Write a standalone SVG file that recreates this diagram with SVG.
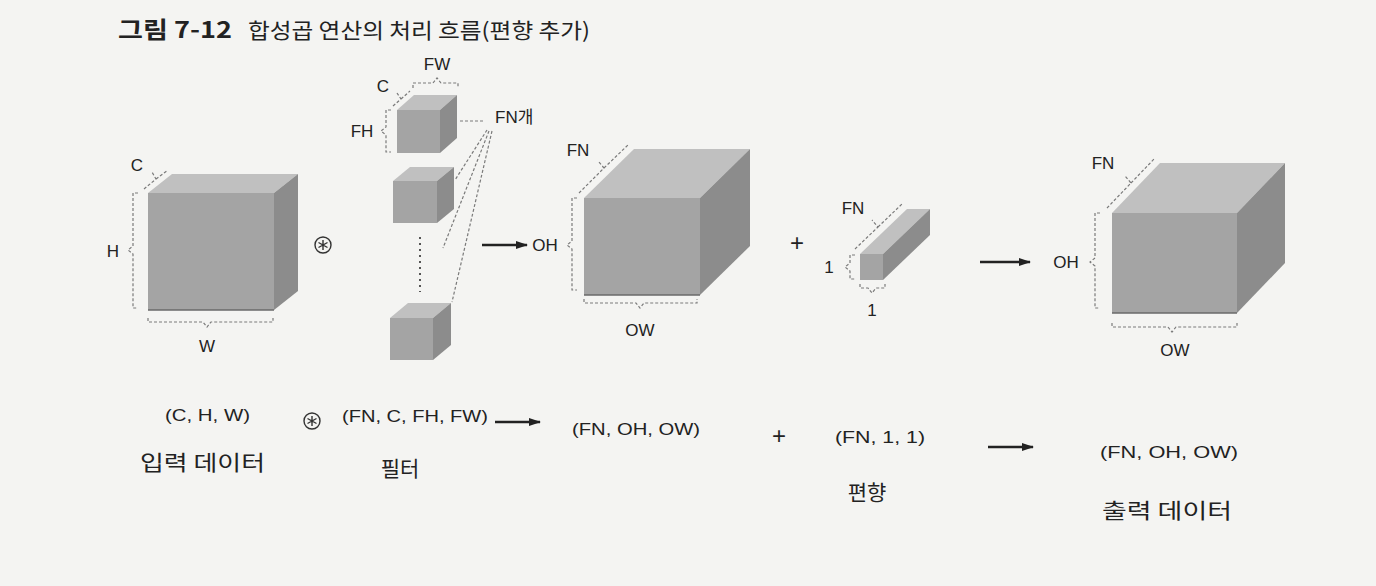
<svg xmlns="http://www.w3.org/2000/svg" width="1376" height="586" viewBox="0 0 1376 586">
<style>
.front{fill:#a4a4a4}
.top{fill:#c0c0c0}
.side{fill:#8c8c8c}
.edge{fill:none;stroke:#6a6a6a;stroke-width:1.5}
.brace{fill:none;stroke:#7a7a7a;stroke-width:1.2;stroke-dasharray:3 2}
.lbl{font-family:"Liberation Sans",Arial,sans-serif;font-size:17px;fill:#222}
.plus{font-family:"Liberation Sans",Arial,sans-serif;font-size:24px;fill:#222}
.shape{font-family:"Liberation Sans",Arial,sans-serif;font-size:16.5px;fill:#222}
.ko{font-family:"Noto Sans CJK KR","Noto Sans",sans-serif;fill:#222}
.arrow{stroke:#222;stroke-width:2.5;fill:none;marker-end:url(#head)}
.op{fill:none;stroke:#333;stroke-width:1.4}
</style>
<defs>
<marker id="head" markerUnits="userSpaceOnUse" markerWidth="12" markerHeight="10" refX="11" refY="5" orient="auto">
<path d="M0,1 L12,5 L0,9 Z" fill="#222"/>
</marker>
<g id="conv">
<circle cx="0" cy="0" r="8" class="op"/>
<path d="M0,-5 V5 M-4.5,-2.5 L4.5,2.5 M-4.5,2.5 L4.5,-2.5" class="op" stroke-width="1.2"/>
</g>
</defs>
<rect width="1376" height="586" fill="#f4f4f2"/>

<g id="title">
<text x="118" y="38" class="ko" font-size="23" font-weight="bold" textLength="114" lengthAdjust="spacingAndGlyphs">그림 7-12</text>
<text x="248" y="38" class="ko" font-size="21" textLength="342" lengthAdjust="spacingAndGlyphs">합성곱 연산의 처리 흐름(편향 추가)</text>
</g>

<g id="input-cube">
<polygon class="top" points="148,193 172,174 298,174 274,193"/>
<polygon class="side" points="274,193 298,174 298,291 274,310"/>
<rect class="front" x="148" y="193" width="126" height="117"/>
<line x1="148" y1="310" x2="274" y2="310" class="edge"/>
<path class="brace" d="M144,189 L156,179 L152,172 M156,179 L168,170"/>
<text x="137" y="171" class="lbl" text-anchor="middle">C</text>
<path class="brace" d="M138,193 H133 V246 L128,250 L133,254 V308 H138"/>
<text x="113" y="257" class="lbl" text-anchor="middle">H</text>
<path class="brace" d="M148,318 V322 H203 L207,327 L211,322 H273 V318"/>
<text x="207" y="352" class="lbl" text-anchor="middle">W</text>
</g>

<use href="#conv" x="323" y="245"/>

<g id="filters">
<polygon class="top" points="397,110 414,95 457,95 440,110"/>
<polygon class="side" points="440,110 457,95 457,138 440,153"/>
<rect class="front" x="397" y="110" width="43" height="43"/>
<polygon class="top" points="393,181 410,167 454,167 437,181"/>
<polygon class="side" points="437,181 454,167 454,209 437,223"/>
<rect class="front" x="393" y="181" width="44" height="42"/>
<line x1="420" y1="237" x2="420" y2="292" stroke="#555" stroke-width="2" stroke-dasharray="2 4"/>
<polygon class="top" points="390,318 408,303 451,303 433,318"/>
<polygon class="side" points="433,318 451,303 451,345 433,360"/>
<rect class="front" x="390" y="318" width="43" height="42"/>
<path class="brace" d="M413,88 V83 H433 L437,78 L441,83 H458 V88"/>
<text x="437" y="70" class="lbl" text-anchor="middle">FW</text>
<path class="brace" d="M393,106 L401,99 L397,93 M401,99 L410,91"/>
<text x="383" y="92" class="lbl" text-anchor="middle">C</text>
<path class="brace" d="M391,110 H386 V127 L381,131 L386,135 V152 H391"/>
<text x="362" y="137" class="lbl" text-anchor="middle">FH</text>
<text x="495" y="123" class="lbl">FN<tspan class="ko" font-size="17">개</tspan></text>
<path class="brace" d="M460,121 H484 M487,130 L455,180 M489,131 L443,248 M492,131 L452,302"/>
</g>

<g id="conv-out">
<polygon class="top" points="584,198 634,149 750,149 700,198"/>
<polygon class="side" points="700,198 750,149 750,246 700,295"/>
<rect class="front" x="584" y="198" width="116" height="97"/>
<line x1="584" y1="295" x2="700" y2="295" class="edge"/>
<path class="brace" d="M579,193 L604,168 L598,161 M604,168 L629,144"/>
<text x="578" y="156" class="lbl" text-anchor="middle">FN</text>
<path class="brace" d="M577,198 H572 V241 L567,245 L572,249 V290 H577"/>
<text x="545" y="251" class="lbl" text-anchor="middle">OH</text>
<path class="brace" d="M584,299 V303 H636 L640,308 L644,303 H697 V299"/>
<text x="640" y="336" class="lbl" text-anchor="middle">OW</text>
</g>

<text x="797" y="251" class="plus" text-anchor="middle">+</text>

<g id="bias">
<polygon class="top" points="860,254 907,209 930,209 883,254"/>
<polygon class="side" points="883,254 930,209 930,235 883,280"/>
<rect class="front" x="860" y="254" width="23" height="26"/>
<path class="brace" d="M855,249 L878,227 L872,220 M878,227 L902,204"/>
<text x="853" y="214" class="lbl" text-anchor="middle">FN</text>
<path class="brace" d="M855,255 H850 V263 L845,267 L850,271 V279 H855"/>
<text x="829" y="273" class="lbl" text-anchor="middle">1</text>
<path class="brace" d="M860,284 V288 H868 L872,293 L876,288 H885 V284"/>
<text x="872" y="316" class="lbl" text-anchor="middle">1</text>
</g>

<g id="output-cube">
<polygon class="top" points="1112,213 1160,163 1285,163 1237,213"/>
<polygon class="side" points="1237,213 1285,163 1285,263 1237,313"/>
<rect class="front" x="1112" y="213" width="125" height="100"/>
<line x1="1112" y1="313" x2="1237" y2="313" class="edge"/>
<path class="brace" d="M1107,208 L1131,183 L1125,176 M1131,183 L1155,158"/>
<text x="1103" y="169" class="lbl" text-anchor="middle">FN</text>
<path class="brace" d="M1100,213 H1095 V258 L1090,262 L1095,266 V308 H1100"/>
<text x="1066" y="268" class="lbl" text-anchor="middle">OH</text>
<path class="brace" d="M1112,323 V327 H1168 L1172,332 L1176,327 H1237 V323"/>
<text x="1175" y="356" class="lbl" text-anchor="middle">OW</text>
</g>

<g id="connectors">
<line x1="482" y1="245" x2="527" y2="245" class="arrow"/>
<line x1="980" y1="262" x2="1030" y2="262" class="arrow"/>
<line x1="495" y1="422" x2="540" y2="422" class="arrow"/>
<line x1="988" y1="447" x2="1033" y2="447" class="arrow"/>
</g>

<g id="shapes-row">
<text x="165" y="421" class="shape" textLength="85" lengthAdjust="spacingAndGlyphs">(C, H, W)</text>
<use href="#conv" x="312" y="421"/>
<text x="342" y="422" class="shape" textLength="146" lengthAdjust="spacingAndGlyphs">(FN, C, FH, FW)</text>
<text x="572" y="435" class="shape" textLength="128" lengthAdjust="spacingAndGlyphs">(FN, OH, OW)</text>
<text x="779" y="444" class="plus" text-anchor="middle">+</text>
<text x="835" y="443" class="shape" textLength="90" lengthAdjust="spacingAndGlyphs">(FN, 1, 1)</text>
<text x="1100" y="458" class="shape" textLength="138" lengthAdjust="spacingAndGlyphs">(FN, OH, OW)</text>
</g>

<g id="names">
<text x="140" y="470" class="ko" font-size="21" textLength="125" lengthAdjust="spacingAndGlyphs">입력 데이터</text>
<text x="400" y="476" class="ko" font-size="21" text-anchor="middle">필터</text>
<text x="867" y="500" class="ko" font-size="21" text-anchor="middle">편향</text>
<text x="1102" y="518" class="ko" font-size="21" textLength="130" lengthAdjust="spacingAndGlyphs">출력 데이터</text>
</g>
</svg>
